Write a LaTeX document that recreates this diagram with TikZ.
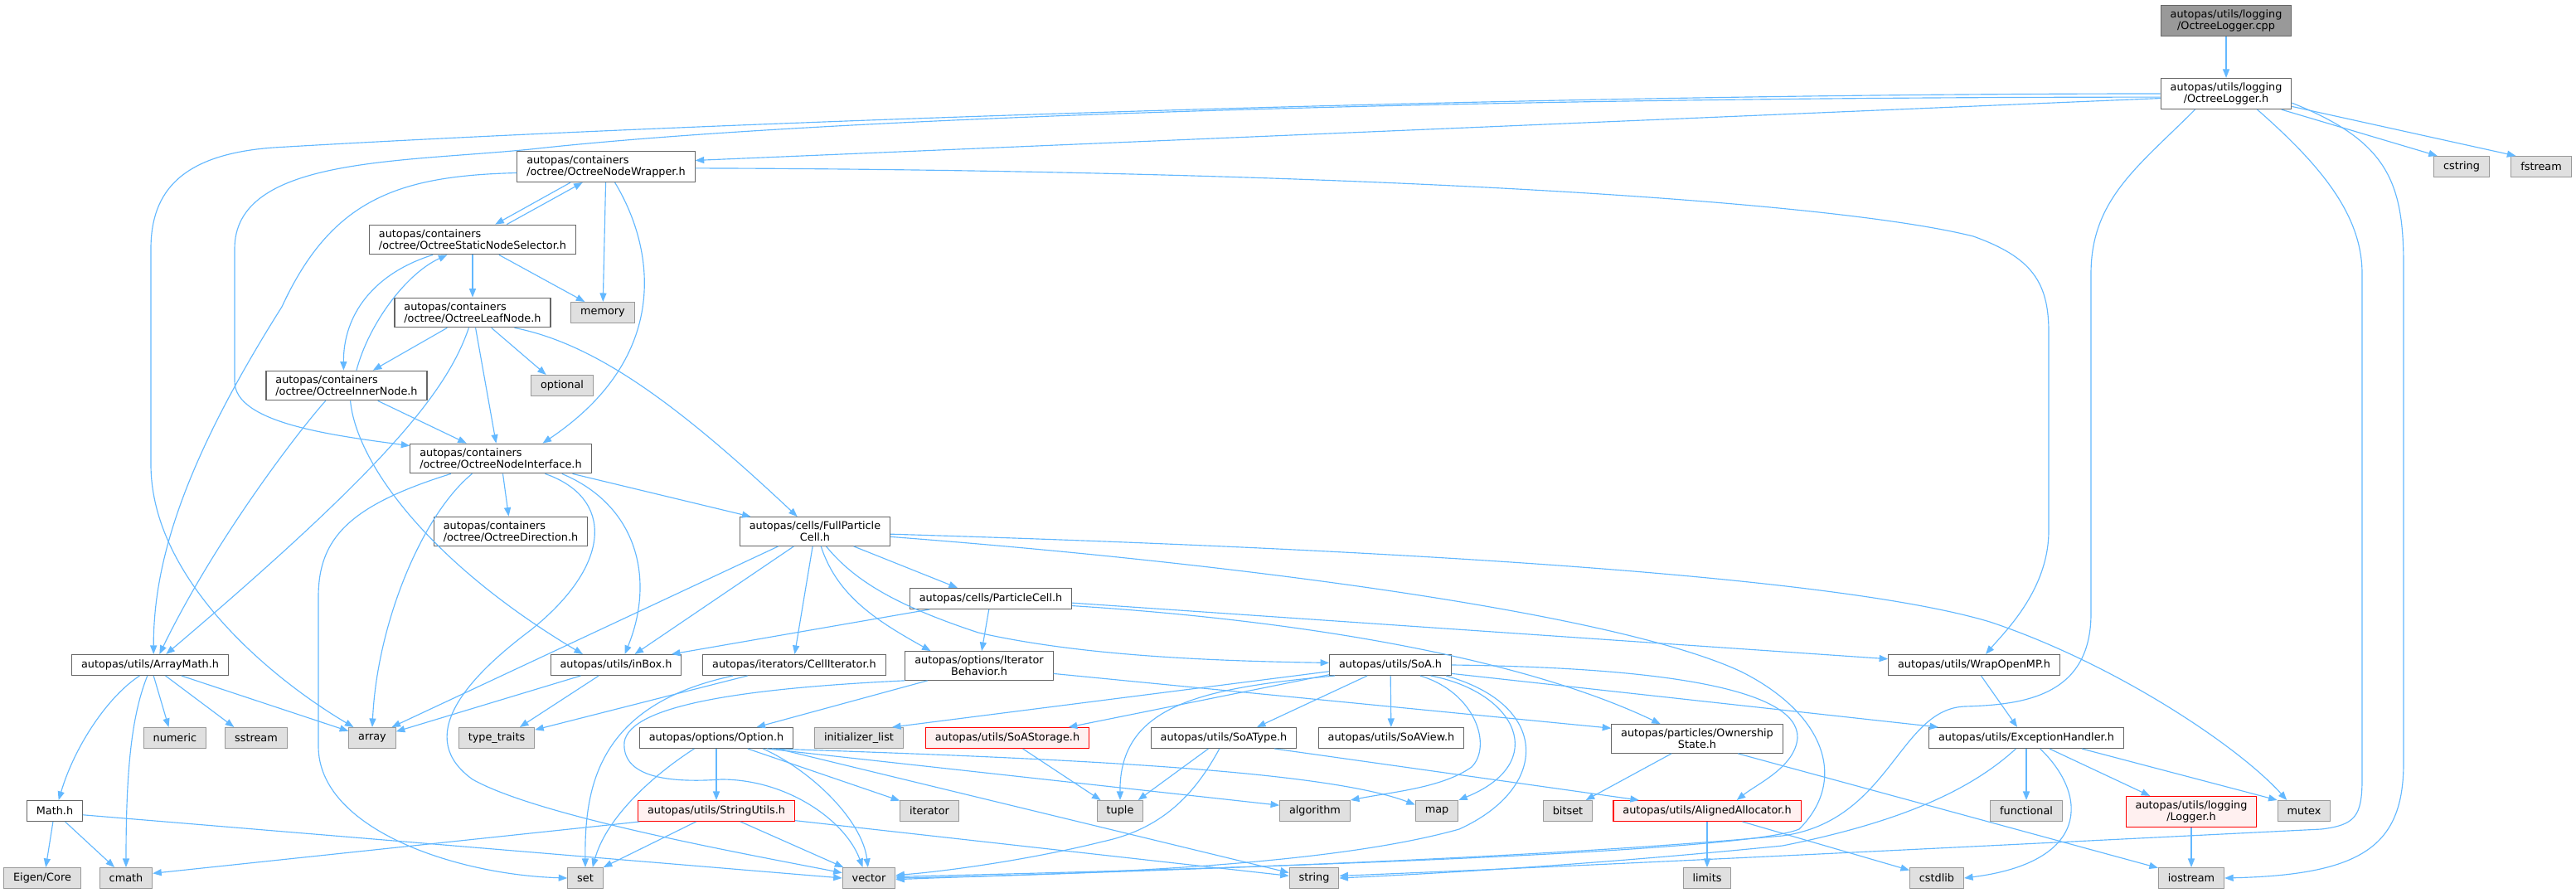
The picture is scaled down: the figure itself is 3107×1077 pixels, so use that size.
\documentclass[tikz,border=0pt]{standalone}
\usepackage{fontspec}
\setmainfont{DejaVu Sans}
\usetikzlibrary{arrows.meta}
\definecolor{edgeblue}{HTML}{63B8FF}
\definecolor{boxline}{HTML}{666666}
\definecolor{sysline}{HTML}{999999}
\definecolor{sysfill}{HTML}{E0E0E0}
\definecolor{badfill}{HTML}{FFF0F0}
\definecolor{rootfill}{HTML}{999999}
\newcommand{\doxfont}{\fontsize{7.3pt}{8.1pt}\selectfont}
\begin{document}
\begin{tikzpicture}[x=0.02cm,y=-0.02cm,
    file/.style={draw=boxline,fill=white,line width=0.6pt,font=\doxfont,
      inner xsep=6.5pt,inner ysep=3pt,minimum height=14.2pt,align=center},
    lfile/.style={file,align=left},
    sys/.style={file,draw=sysline,fill=sysfill},
    bad/.style={file,draw=red,fill=badfill},
    root/.style={file,fill=rootfill},
    dep/.style={draw=edgeblue,line width=0.65pt,-{Triangle[length=6pt,width=4.6pt]}}]
\useasboundingbox (0,0) rectangle (3107,1077);
% files
\node[root] (cpp) at (2685,25) {autopas/utils/logging\\/OctreeLogger.cpp};
\node[file] (logh) at (2685,113) {autopas/utils/logging\\/OctreeLogger.h};
\node[sys] (cstring) at (2969,201) {cstring};
\node[sys] (fstream) at (3065,201) {fstream};
\node[lfile] (wrapper) at (731,201) {autopas/containers\\/octree/OctreeNodeWrapper.h};
\node[lfile] (selector) at (570,289) {autopas/containers\\/octree/OctreeStaticNodeSelector.h};
\node[sys] (memory) at (727,377) {memory};
\node[lfile] (leaf) at (570,377) {autopas/containers\\/octree/OctreeLeafNode.h};
\node[sys] (optional) at (678,465) {optional};
\node[lfile] (inner) at (418,465) {autopas/containers\\/octree/OctreeInnerNode.h};
\node[lfile] (iface) at (604,553) {autopas/containers\\/octree/OctreeNodeInterface.h};
\node[lfile] (direction) at (616,641) {autopas/containers\\/octree/OctreeDirection.h};
\node[file] (fullcell) at (983,641) {autopas/cells/FullParticle\\Cell.h};
\node[file] (pcell) at (1195,722) {autopas/cells/ParticleCell.h};
\node[file] (amath) at (181,802) {autopas/utils/ArrayMath.h};
\node[file] (inbox) at (743,802) {autopas/utils/inBox.h};
\node[file] (citer) at (958,802) {autopas/iterators/CellIterator.h};
\node[file] (itbeh) at (1181,803) {autopas/options/Iterator\\Behavior.h};
\node[file] (soa) at (1677,802) {autopas/utils/SoA.h};
\node[file] (omp) at (2381,802) {autopas/utils/WrapOpenMP.h};
\node[sys] (numeric) at (211,890) {numeric};
\node[sys] (sstream) at (309,890) {sstream};
\node[sys] (array) at (449,890) {array};
\node[sys] (ttraits) at (599,890) {type\_traits};
\node[file] (option) at (864,890) {autopas/options/Option.h};
\node[sys] (initlist) at (1036,890) {initializer\_list};
\node[bad] (soastor) at (1215,890) {autopas/utils/SoAStorage.h};
\node[file] (soatype) at (1476,890) {autopas/utils/SoAType.h};
\node[file] (soaview) at (1678,890) {autopas/utils/SoAView.h};
\node[file] (owner) at (2047,891) {autopas/particles/Ownership\\State.h};
\node[file] (exhand) at (2444,890) {autopas/utils/ExceptionHandler.h};
\node[file] (mathh) at (66,978) {Math.h};
\node[bad] (strutil) at (864,978) {autopas/utils/StringUtils.h};
\node[sys] (iterator) at (1121,978) {iterator};
\node[sys] (tuple) at (1351,978) {tuple};
\node[sys] (algorithm) at (1586,978) {algorithm};
\node[sys] (map) at (1733,978) {map};
\node[sys] (bitset) at (1891,978) {bitset};
\node[bad] (alalloc) at (2059,978) {autopas/utils/AlignedAllocator.h};
\node[sys] (functional) at (2444,978) {functional};
\node[bad] (logger) at (2643,979) {autopas/utils/logging\\/Logger.h};
\node[sys] (mutex) at (2779,978) {mutex};
\node[sys] (eigen) at (51,1059) {Eigen/Core};
\node[sys] (cmath) at (152,1059) {cmath};
\node[sys] (set) at (706,1059) {set};
\node[sys] (vector) at (1048,1059) {vector};
\node[sys] (string) at (1585,1059) {string};
\node[sys] (limits) at (2059,1059) {limits};
\node[sys] (cstdlib) at (2336,1059) {cstdlib};
\node[sys] (iostream) at (2643,1059) {iostream};
% OctreeLogger
\draw[dep] (cpp) -- (logh);
\draw[dep] (logh.184) -- (wrapper.4);
\draw[dep] (logh.west) .. controls (1800,113) and (800,150) .. (330,178) .. controls (220,186) and (182,230) .. (182,300) -- (182,560) .. controls (182,700) and (330,820) .. (array.150);
\draw[dep] (logh.183) .. controls (1800,117) and (1000,140) .. (640,180) .. controls (480,196) and (283,190) .. (283,300) -- (283,460) .. controls (283,510) and (400,525) .. (iface.172);
\draw[dep] (logh.-16) -- (cstring.156);
\draw[dep] (logh.-11) -- (fstream.157);
\draw[dep] (logh.-8) .. controls (2880,170) and (2899,220) .. (2899,320) -- (2899,920) .. controls (2899,1020) and (2850,1055) .. (iostream.east);
\draw[dep] (logh.-27) .. controls (2800,200) and (2849,260) .. (2849,330) -- (2849,940) .. controls (2849,985) and (2840,995) .. (2800,1000) .. controls (2400,1020) and (1900,1045) .. (string.5);
\draw[dep] (logh.-153) .. controls (2580,200) and (2522,240) .. (2522,330) -- (2522,740) .. controls (2522,840) and (2440,850) .. (2370,852) .. controls (2290,855) and (2280,990) .. (2150,1008) .. controls (1800,1040) and (1300,1052) .. (vector.-3);
% octree
\draw[dep] (wrapper.-156) -- (selector.34);
\draw[dep] (selector.24) -- (wrapper.-146);
\draw[dep] (wrapper) -- (memory);
\draw[dep] (wrapper.-61) .. controls (790,300) and (810,430) .. (iface.20);
\draw[dep] (wrapper.184) .. controls (480,212) and (400,240) .. (340,370) .. controls (220,560) and (185,680) .. (amath.72);
\draw[dep] (wrapper.-1) .. controls (1600,205) and (2200,240) .. (2380,285) .. controls (2450,310) and (2471,340) .. (2471,400) -- (2471,640) .. controls (2471,710) and (2420,760) .. (omp.43);
\draw[dep] (selector) -- (leaf);
\draw[dep] (selector.-30) -- (memory.149);
\draw[dep] (selector.-159) .. controls (450,330) and (414,380) .. (inner.101);
\draw[dep] (inner.57) .. controls (445,390) and (490,330) .. (selector.-149);
\draw[dep] (leaf.-149) -- (inner.30);
\draw[dep] (leaf.-79) -- (iface.107);
\draw[dep] (leaf.-39) -- (optional.146);
\draw[dep] (leaf.-20) .. controls (720,415) and (820,490) .. (fullcell.140);
\draw[dep] (leaf.-104) .. controls (540,470) and (470,560) .. (amath.34);
\draw[dep] (inner.-26) -- (iface.156);
\draw[dep] (inner.-144) .. controls (360,520) and (260,650) .. (amath.49);
\draw[dep] (inner.-76) .. controls (430,560) and (520,680) .. (inbox.162);
\draw[dep] (iface) -- (direction);
\draw[dep] (iface.-12) -- (fullcell.167);
\draw[dep] (iface.-14) .. controls (770,610) and (790,700) .. (inbox.51);
\draw[dep] (iface.-19) .. controls (740,600) and (740,680) .. (640,760) .. controls (560,820) and (500,890) .. (570,940) .. controls (650,985) and (900,1030) .. (vector.169);
\draw[dep] (iface.-152) .. controls (510,620) and (455,750) .. (array.north);
\draw[dep] (iface.-163) .. controls (420,610) and (384,650) .. (384,720) -- (384,900) .. controls (384,1000) and (550,1055) .. (set.west);
% cells
\draw[dep] (fullcell.-158) -- (array.29);
\draw[dep] (fullcell.-145) -- (inbox.30);
\draw[dep] (fullcell.-99) -- (citer.88);
\draw[dep] (fullcell.-68) .. controls (1010,720) and (1060,750) .. (itbeh.163);
\draw[dep] (fullcell.-21) -- (pcell.162);
\draw[dep] (fullcell.-53) .. controls (1030,700) and (1080,730) .. (1180,763) .. controls (1300,790) and (1450,797) .. (soa.178);
\draw[dep] (fullcell.-2) .. controls (1600,660) and (2200,690) .. (2400,750) .. controls (2550,800) and (2700,900) .. (mutex.148);
\draw[dep] (fullcell.-4) .. controls (1500,680) and (1950,740) .. (2100,810) .. controls (2200,860) and (2230,940) .. (2170,1000) .. controls (2100,1030) and (1400,1050) .. (vector.3);
\draw[dep] (pcell.-170) -- (inbox.11);
\draw[dep] (pcell) -- (itbeh);
\draw[dep] (pcell.-3) -- (omp.176);
\draw[dep] (pcell.-5) .. controls (1600,750) and (1850,800) .. (owner.158);
% utils and options
\draw[dep] (amath.-134) .. controls (130,840) and (90,900) .. (mathh.70);
\draw[dep] (amath.-104) .. controls (160,860) and (152,920) .. (cmath.north);
\draw[dep] (amath.-72) -- (numeric.120);
\draw[dep] (amath.-35) -- (sstream.154);
\draw[dep] (amath.-19) -- (array.164);
\draw[dep] (mathh.-99) -- (eigen.72);
\draw[dep] (mathh.-46) -- (cmath.137);
\draw[dep] (mathh.-8) -- (vector.west);
\draw[dep] (inbox.-163) -- (array.15);
\draw[dep] (inbox.-148) -- (ttraits.25);
\draw[dep] (citer.-167) -- (ttraits.12);
\draw[dep] (citer.-170) .. controls (720,850) and (705,950) .. (set.north);
\draw[dep] (itbeh.-164) -- (option.15);
\draw[dep] (itbeh.-6) -- (owner.173);
\draw[dep] (itbeh.south west) .. controls (900,830) and (760,850) .. (753,895) .. controls (750,935) and (800,945) .. (870,940) .. controls (950,940) and (1020,990) .. (vector.120);
\draw[dep] (option) -- (strutil);
\draw[dep] (option.-154) .. controls (780,940) and (730,990) .. (set.56);
\draw[dep] (option.-13) .. controls (980,930) and (1040,990) .. (vector.95);
\draw[dep] (option.-19) -- (iterator.161);
\draw[dep] (option.-12) -- (algorithm.171);
\draw[dep] (option.-11) .. controls (1300,915) and (1600,930) .. (map.164);
\draw[dep] (option.-10) -- (string.168);
\draw[dep] (strutil.-172) -- (cmath.10);
\draw[dep] (strutil.-152) -- (set.north east);
\draw[dep] (strutil.-24) -- (vector.157);
\draw[dep] (strutil.-7) -- (string.175);
% SoA
\draw[dep] (soa.-174) -- (initlist.18);
\draw[dep] (soa.-171) -- (soastor.10);
\draw[dep] (soa.-169) .. controls (1450,830) and (1350,850) .. (tuple.north);
\draw[dep] (soa.-155) -- (soatype.18);
\draw[dep] (soa) -- (soaview);
\draw[dep] (soa.-20) .. controls (1780,835) and (1800,900) .. (1775,925) .. controls (1740,950) and (1680,955) .. (algorithm.north east);
\draw[dep] (soa.-15) .. controls (1830,835) and (1870,920) .. (map.north east);
\draw[dep] (soa.-11) .. controls (1870,850) and (1870,950) .. (1760,1000) .. controls (1600,1045) and (1300,1055) .. (vector.east);
\draw[dep] (soa.east) .. controls (2000,805) and (2170,830) .. (2168,890) .. controls (2165,925) and (2120,945) .. (alalloc.20);
\draw[dep] (soa.-8) -- (exhand.173);
\draw[dep] (soastor.-35) -- (tuple.151);
\draw[dep] (soatype.-145) -- (tuple.31);
\draw[dep] (soatype.-112) .. controls (1440,960) and (1400,1000) .. (1330,1015) .. controls (1250,1035) and (1150,1050) .. (vector.6);
\draw[dep] (soatype.-12) -- (alalloc.171);
\draw[dep] (owner.-150) -- (bitset.31);
\draw[dep] (owner.-20) -- (iostream.163);
\draw[dep] (alalloc) -- (limits);
\draw[dep] (alalloc.-17) -- (cstdlib.164);
% exceptions
\draw[dep] (omp.-57) -- (exhand.130);
\draw[dep] (exhand) -- (functional);
\draw[dep] (exhand.-38) .. controls (2520,960) and (2520,1040) .. (cstdlib.east);
\draw[dep] (exhand.-25) -- (logger.159);
\draw[dep] (exhand.-11) -- (mutex.north west);
\draw[dep] (exhand.-134) .. controls (2380,950) and (2300,990) .. (2150,1020) .. controls (1900,1045) and (1700,1055) .. (string.east);
\draw[dep] (logger) -- (iostream);
\end{tikzpicture}
\end{document}
